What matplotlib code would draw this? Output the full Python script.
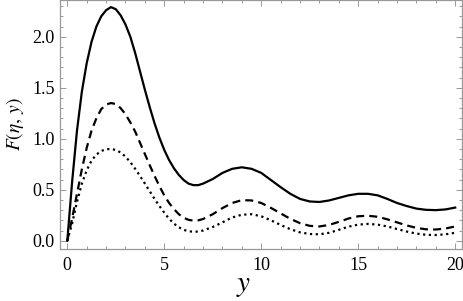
import matplotlib
matplotlib.use("Agg")
import matplotlib.pyplot as plt
from matplotlib.ticker import MultipleLocator

plt.rcParams['font.family'] = ['Liberation Serif', 'DejaVu Serif']
plt.rcParams['mathtext.fontset'] = 'stix'

y_vals = [0, 0.25, 0.5, 0.75, 1.0, 1.25, 1.5, 1.75, 2.0, 2.25, 2.5, 2.75, 3.0, 3.25,
          3.5, 3.75, 4.0, 4.25, 4.5, 4.75, 5.0, 5.25, 5.5, 5.75, 6.0, 6.25, 6.5, 6.75,
          7.0, 7.5, 8.0, 8.5, 9.0, 9.5, 10.0, 10.5, 11.0, 11.5, 12.0, 12.5, 13.0, 13.5,
          14.0, 14.5, 15.0, 15.5, 16.0, 16.5, 17.0, 17.5, 18.0, 18.5, 19.0, 19.5, 20.0]

F_solid = [0, 0.58, 1.08, 1.46, 1.74, 1.95, 2.10, 2.20, 2.26, 2.29, 2.27, 2.21, 2.12, 2.00,
           1.84, 1.66, 1.48, 1.31, 1.15, 1.01, 0.89, 0.79, 0.71, 0.645, 0.595, 0.56, 0.545, 0.545,
           0.56, 0.605, 0.665, 0.705, 0.72, 0.705, 0.665, 0.595, 0.525, 0.46, 0.41, 0.385, 0.38, 0.395,
           0.42, 0.445, 0.46, 0.46, 0.445, 0.41, 0.37, 0.34, 0.315, 0.303, 0.30, 0.307, 0.325]

F_dashed = [0, 0.22, 0.46, 0.70, 0.91, 1.08, 1.20, 1.29, 1.335, 1.35, 1.34, 1.30, 1.24, 1.16,
            1.07, 0.96, 0.85, 0.74, 0.635, 0.535, 0.445, 0.37, 0.31, 0.26, 0.225, 0.205, 0.197, 0.20,
            0.213, 0.26, 0.32, 0.37, 0.398, 0.395, 0.37, 0.322, 0.268, 0.215, 0.172, 0.146, 0.14, 0.155,
            0.185, 0.218, 0.24, 0.245, 0.235, 0.21, 0.18, 0.15, 0.126, 0.112, 0.11, 0.12, 0.14]

F_dotted = [0, 0.17, 0.38, 0.56, 0.69, 0.785, 0.845, 0.88, 0.897, 0.90, 0.89, 0.865, 0.825, 0.77,
            0.705, 0.635, 0.56, 0.485, 0.41, 0.34, 0.275, 0.215, 0.168, 0.132, 0.107, 0.093, 0.088, 0.09,
            0.10, 0.135, 0.18, 0.228, 0.255, 0.26, 0.24, 0.20, 0.155, 0.113, 0.082, 0.066, 0.063, 0.078,
            0.107, 0.138, 0.158, 0.165, 0.158, 0.14, 0.115, 0.09, 0.07, 0.058, 0.056, 0.063, 0.078]

x_ticks = [0, 5, 10, 15, 20]
y_ticks = [0.0, 0.5, 1.0, 1.5, 2.0]

W, H = 463, 301
fig = plt.figure(figsize=(W / 100, H / 100), dpi=100)
ax = fig.add_axes([60 / W, 52 / H, 402 / W, 249 / H])

ax.plot(y_vals, F_solid, color='black', lw=1.6, solid_joinstyle='round')
ax.plot(y_vals, F_dashed, color='black', lw=1.6, linestyle=(0, (3.6, 2.3)), dash_capstyle='butt')
ax.plot(y_vals, F_dotted, color='black', lw=1.6, linestyle=(0, (1.0, 1.6)), dash_capstyle='butt')

ax.set_xlim(-0.376, 20.35)
ax.set_ylim(-0.081, 2.36)
ax.set_xticks(x_ticks)
ax.set_xticklabels([str(v) for v in x_ticks])
ax.set_yticks(y_ticks)
ax.set_yticklabels([f"{v:.1f}" for v in y_ticks])
ax.xaxis.set_minor_locator(MultipleLocator(1))
ax.yaxis.set_minor_locator(MultipleLocator(0.1))

frame_col = '#999999'
for s in ax.spines.values():
    s.set_color(frame_col)
    s.set_linewidth(0.9)
ax.tick_params(which='both', direction='in', top=True, right=True, color=frame_col,
               labelsize=13, labelcolor='black', width=0.7)
ax.tick_params(which='major', length=4.5)
ax.tick_params(axis='x', which='major', pad=6)
ax.tick_params(axis='y', which='major', pad=4)
ax.tick_params(which='minor', length=2.5)

ax.set_xlabel(r'$y$', fontsize=21)
ax.xaxis.set_label_coords((244 - 60) / 402, -0.095)
ax.xaxis.label.set_verticalalignment('top')
ax.set_ylabel(r'$F(\eta,\, y)$', fontsize=14, labelpad=4)

fig.savefig('out.png', dpi=100)
